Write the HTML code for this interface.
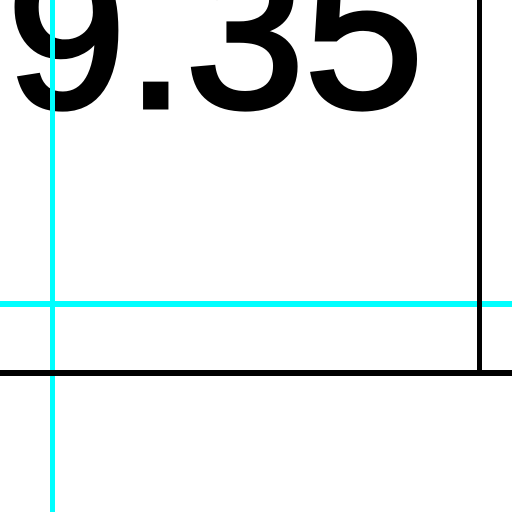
<!DOCTYPE html>
<html><head><meta charset="utf-8"><style>
html,body{margin:0;padding:0;background:#fff;width:512px;height:512px;overflow:hidden}
svg{display:block}
</style></head><body>
<svg width="512" height="512" viewBox="0 0 512 512">
<rect x="0" y="0" width="512" height="512" fill="#fff"/>
<text x="7" y="107" font-family="'Liberation Sans', sans-serif" font-size="214" fill="#000" stroke="#000" stroke-width="5">9.35</text>
<rect x="50" y="0" width="5" height="512" fill="#00ffff"/>
<rect x="0" y="301" width="512" height="6" fill="#00ffff"/>
<rect x="477" y="0" width="5" height="373" fill="#000"/>
<rect x="0" y="370" width="512" height="6" fill="#000"/>
</svg>
</body></html>
